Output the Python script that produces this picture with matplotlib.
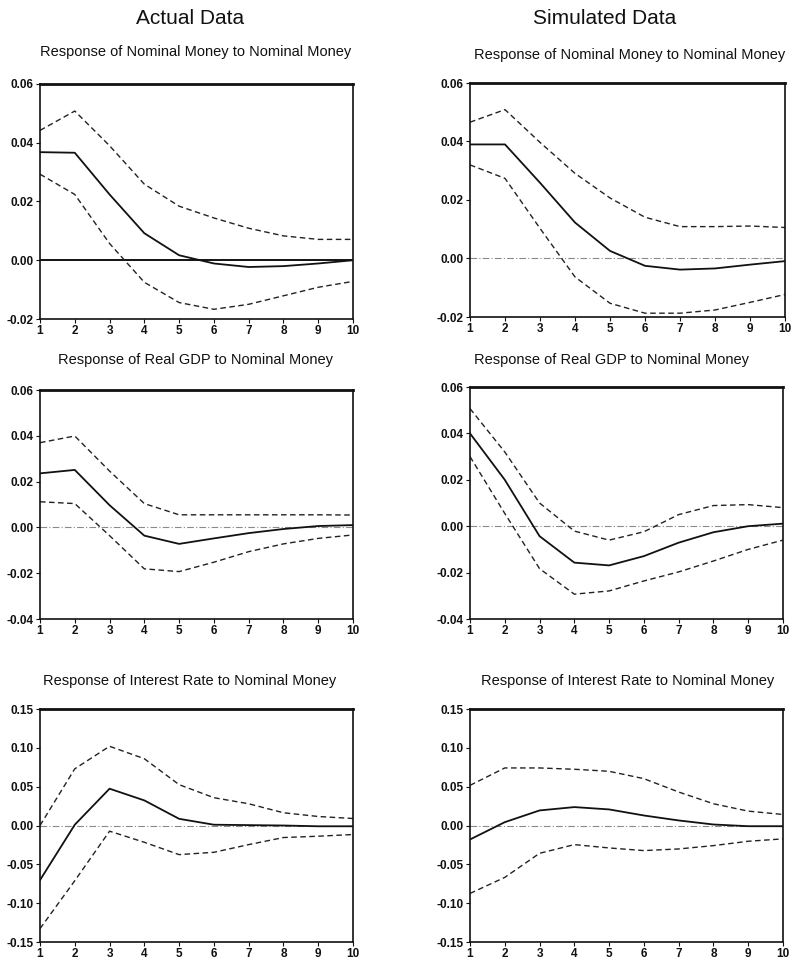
import matplotlib
matplotlib.use("Agg")
import matplotlib.pyplot as plt

plt.rcParams['font.family'] = ['Liberation Sans', 'DejaVu Sans']

periods = list(range(1, 11))

# Actual data
act_nm_mid = [0.0368, 0.0366, 0.0224, 0.0092, 0.0017, -0.0011, -0.0023, -0.0020, -0.0011, 0.0000]
act_nm_up = [0.0442, 0.0508, 0.0390, 0.0259, 0.0184, 0.0144, 0.0109, 0.0083, 0.0071, 0.0071]
act_nm_lo = [0.0293, 0.0224, 0.0057, -0.0075, -0.0144, -0.0167, -0.0150, -0.0121, -0.0092, -0.0072]

act_gdp_mid = [0.0236, 0.0251, 0.0097, -0.0036, -0.0072, -0.0048, -0.0025, -0.0007, 0.0006, 0.0010]
act_gdp_up = [0.0370, 0.0399, 0.0246, 0.0104, 0.0055, 0.0055, 0.0055, 0.0055, 0.0055, 0.0054]
act_gdp_lo = [0.0112, 0.0104, -0.0036, -0.0181, -0.0193, -0.0152, -0.0106, -0.0072, -0.0048, -0.0033]

act_ir_mid = [-0.0703, 0.0010, 0.0474, 0.0323, 0.0086, 0.0010, 0.0005, 0.0000, -0.0010, -0.0010]
act_ir_up = [0.0000, 0.0730, 0.1020, 0.0860, 0.0526, 0.0358, 0.0280, 0.0164, 0.0116, 0.0090]
act_ir_lo = [-0.1328, -0.0711, -0.0073, -0.0216, -0.0375, -0.0345, -0.0246, -0.0155, -0.0138, -0.0116]

# Simulated data
sim_nm_mid = [0.0390, 0.0390, 0.0259, 0.0123, 0.0026, -0.0025, -0.0038, -0.0034, -0.0021, -0.0009]
sim_nm_up = [0.0466, 0.0509, 0.0397, 0.0291, 0.0207, 0.0141, 0.0109, 0.0109, 0.0111, 0.0106]
sim_nm_lo = [0.0320, 0.0274, 0.0103, -0.0063, -0.0153, -0.0187, -0.0187, -0.0176, -0.0150, -0.0123]

sim_gdp_mid = [0.0400, 0.0200, -0.0043, -0.0157, -0.0169, -0.0129, -0.0071, -0.0026, 0.0000, 0.0011]
sim_gdp_up = [0.0507, 0.0320, 0.0100, -0.0021, -0.0060, -0.0024, 0.0050, 0.0089, 0.0093, 0.0080]
sim_gdp_lo = [0.0300, 0.0055, -0.0183, -0.0293, -0.0279, -0.0236, -0.0197, -0.0150, -0.0100, -0.0060]

sim_ir_mid = [-0.0180, 0.0043, 0.0194, 0.0237, 0.0207, 0.0129, 0.0065, 0.0013, -0.0009, -0.0009]
sim_ir_up = [0.0517, 0.0741, 0.0741, 0.0724, 0.0698, 0.0603, 0.0431, 0.0280, 0.0185, 0.0142]
sim_ir_lo = [-0.0875, -0.0668, -0.0358, -0.0246, -0.0289, -0.0323, -0.0302, -0.0259, -0.0203, -0.0172]

col_titles = ["Actual Data", "Simulated Data"]
panel_titles = ["Response of Nominal Money to Nominal Money",
                "Response of Real GDP to Nominal Money",
                "Response of Interest Rate to Nominal Money"]

money_ticks = [-0.02, 0.00, 0.02, 0.04, 0.06]
gdp_ticks = [-0.04, -0.02, 0.00, 0.02, 0.04, 0.06]
ir_ticks = [-0.15, -0.10, -0.05, 0.00, 0.05, 0.10, 0.15]

W, H = 795, 963
fig = plt.figure(figsize=(W / 100, H / 100), dpi=100)
fig.patch.set_facecolor('white')


def px_axes(left, right, top, bottom):
    return fig.add_axes([left / W, (H - bottom) / H, (right - left) / W, (bottom - top) / H])


panels = [
    ((40, 353, 84, 319), act_nm_mid, act_nm_up, act_nm_lo, money_ticks, True),
    ((470, 785, 83, 317), sim_nm_mid, sim_nm_up, sim_nm_lo, money_ticks, False),
    ((40, 353, 390, 619), act_gdp_mid, act_gdp_up, act_gdp_lo, gdp_ticks, False),
    ((470, 783, 387, 619), sim_gdp_mid, sim_gdp_up, sim_gdp_lo, gdp_ticks, False),
    ((40, 353, 709, 942), act_ir_mid, act_ir_up, act_ir_lo, ir_ticks, False),
    ((470, 783, 709, 942), sim_ir_mid, sim_ir_up, sim_ir_lo, ir_ticks, False),
]

for box, mid, up, lo, ticks, zero_solid in panels:
    ax = px_axes(*box)
    if zero_solid:
        ax.axhline(0, color='black', lw=1.3, zorder=1)
    else:
        ax.axhline(0, color='#8a8a8a', lw=0.8, ls=(0, (6, 2, 1, 2)), zorder=1)
    ax.plot(periods, up, color='#222222', lw=1.0, ls=(0, (4, 2.5)), zorder=2)
    ax.plot(periods, lo, color='#222222', lw=1.0, ls=(0, (4, 2.5)), zorder=2)
    ax.plot(periods, mid, color='#111111', lw=1.3, zorder=3)
    ax.set_xlim(1, 10)
    ax.set_ylim(ticks[0], ticks[-1])
    ax.set_xticks(periods)
    ax.set_xticklabels([str(p) for p in periods], fontsize=8.5, fontweight='bold')
    ax.set_yticks(ticks)
    ax.set_yticklabels(["{:.2f}".format(t) for t in ticks], fontsize=8.5, fontweight='bold')
    ax.tick_params(axis='both', direction='out', length=3, width=0.8, pad=1.5, colors='#111111')
    for s in ['left', 'right', 'bottom']:
        ax.spines[s].set_linewidth(1.2)
        ax.spines[s].set_color('#111111')
    ax.spines['top'].set_linewidth(2.0)
    ax.spines['top'].set_color('#111111')

# column headers
fig.text(190 / W, 1 - 18 / H, col_titles[0], ha='center', va='center', fontsize=15, color='#111111')
fig.text(605 / W, 1 - 18 / H, col_titles[1], ha='center', va='center', fontsize=15, color='#111111')

# panel titles
title_pos = [((196, 52), (630, 55)), ((195, 360), (612, 360)), ((190, 681), (628, 681))]
for t, ((xl, yl), (xr, yr)) in zip(panel_titles, title_pos):
    kw = dict(ha='center', va='center', fontsize=10.5, color='#111111',
              family=['Liberation Sans Narrow', 'Liberation Sans', 'DejaVu Sans'])
    fig.text(xl / W, 1 - yl / H, t, **kw)
    fig.text(xr / W, 1 - yr / H, t, **kw)

fig.savefig("out.png", dpi=100, facecolor='white')
